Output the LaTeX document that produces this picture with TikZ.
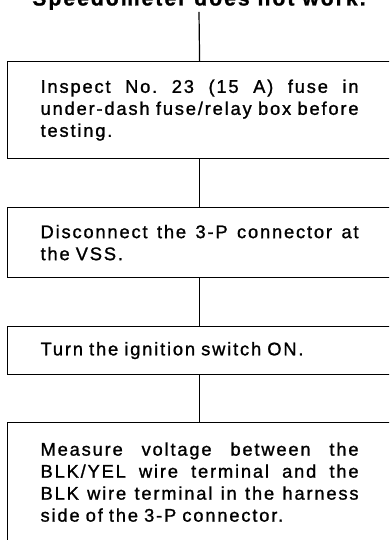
\documentclass[tikz,border=0pt]{standalone}
\usepackage{fontspec}
\setmainfont{Liberation Sans}[LetterSpace=10,FakeBold=1.2]
\frenchspacing
\newlength\tw
\setlength\tw{318pt}
\newcommand\jl[1]{\makebox[\tw][s]{\spaceskip=0.28em plus 10em\xspaceskip=\spaceskip #1}}
\begin{document}
\begin{tikzpicture}[x=1pt,y=1pt,line width=1.2pt,
  stepbox/.style={draw, rectangle, anchor=north west, text width=\tw,
    inner xsep=33pt, inner ysep=0pt, align=left,
    font=\fontsize{18.3}{22}\selectfont},
  ttl/.style={font=\fontsize{21}{26}\selectfont\bfseries, inner sep=1.5pt, anchor=base}]
\useasboundingbox (0,0) rectangle (389,-540);
\clip (0,0) rectangle (389,-540);
\node[ttl] (t) at (199,-5.5) {Speedometer does not work.};
\node[stepbox, minimum height=97pt] (b1) at (7,-61)
  {\jl{Inspect No. 23 (15 A) fuse in}\\\jl{under-dash fuse/relay box before}\\testing.};
\node[stepbox, minimum height=70pt] (b2) at (7,-207)
  {\jl{Disconnect the 3-P connector at}\\the VSS.};
\node[stepbox, minimum height=48pt] (b3) at (7,-326)
  {Turn the ignition switch ON.};
\node[stepbox, minimum height=119pt] (b4) at (7,-422)
  {\jl{Measure voltage between the}\\\jl{BLK/YEL wire terminal and the}\\\jl{BLK wire terminal in the harness}\\side of the 3-P connector.};
\draw (t.south) -- (b1.north);
\draw (b1.south) -- (b2.north);
\draw (b2.south) -- (b3.north);
\draw (b3.south) -- (b4.north);
\end{tikzpicture}
\end{document}
